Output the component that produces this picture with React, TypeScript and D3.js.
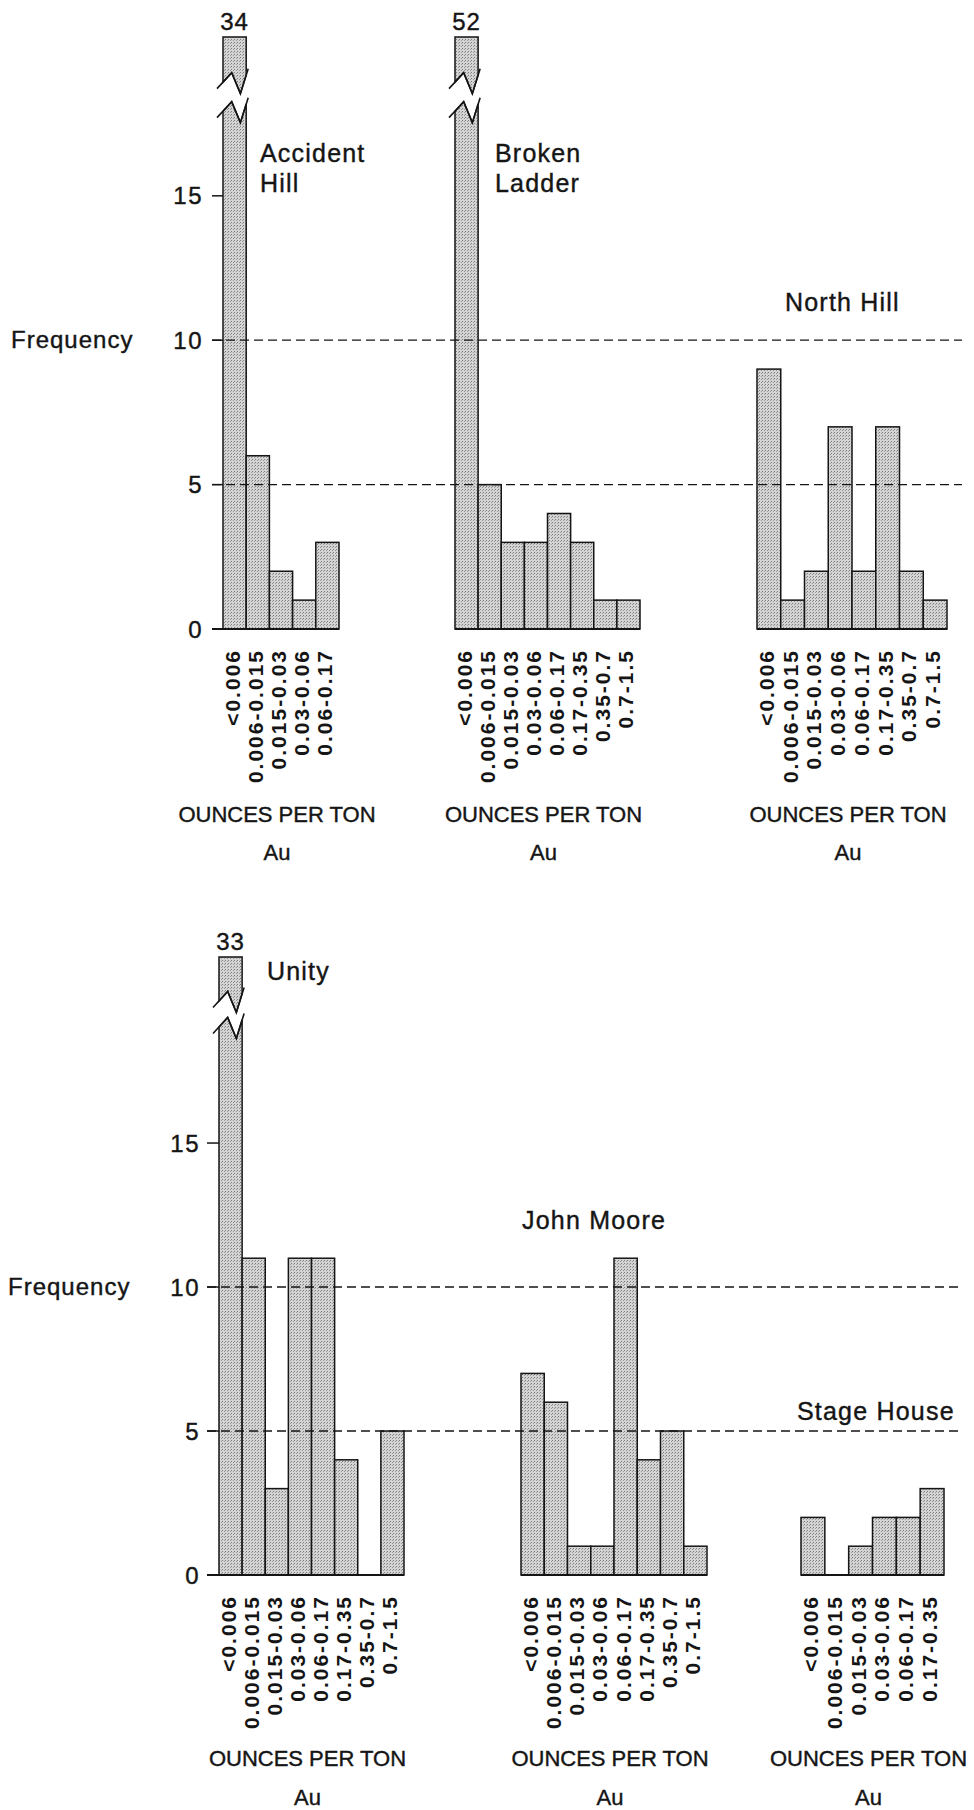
import React from "react";
import * as d3 from "d3";

// gold assay classes, ounces per ton
const binLabels = [
  "<0.006",
  "0.006-0.015",
  "0.015-0.03",
  "0.03-0.06",
  "0.06-0.17",
  "0.17-0.35",
  "0.35-0.7",
  "0.7-1.5",
];
const accidentHillBins = binLabels.slice(0, 5);
const stageHouseBins = binLabels.slice(0, 6);

const accidentHillCounts = [34, 6, 2, 1, 3];
const brokenLadderCounts = [52, 5, 3, 3, 4, 3, 1, 1];
const northHillCounts = [9, 1, 2, 7, 2, 7, 2, 1];
const unityCounts = [33, 11, 3, 11, 11, 4, 0, 5];
const johnMooreCounts = [7, 6, 1, 1, 11, 4, 5, 1];
const stageHouseCounts = [2, 0, 1, 2, 2, 3];

const yTicks = [0, 5, 10, 15];
const gridValues = [5, 10];

const FONT = "'Liberation Sans', Arial, Helvetica, sans-serif";
const INK = "#151515";
const W = 974;
const H = 1810;

// a thin outline makes the text as heavy as the printed original
const heavy = { stroke: INK, strokeWidth: 0.4 };

const panels = [
  {
    base: 629,
    top: 37,
    axisMax: 20.5,
    breakAt: 18.4,
    breakGap: 29,
    tickX: 212,
    tickLabelX: 203,
    freqX: 11,
    titleY: 822,
    auY: 860,
    groups: [
      { name: ["Accident", "Hill"], nameX: 260, nameY: 162, bins: accidentHillBins, counts: accidentHillCounts, x0: 223, x1: 339 },
      { name: ["Broken", "Ladder"], nameX: 495, nameY: 162, bins: binLabels, counts: brokenLadderCounts, x0: 455, x1: 640 },
      { name: ["North Hill"], nameX: 785, nameY: 311, bins: binLabels, counts: northHillCounts, x0: 757, x1: 947 },
    ],
  },
  {
    base: 1575,
    top: 957,
    axisMax: 21.46,
    breakAt: 19.5,
    breakGap: 26,
    tickX: 207,
    tickLabelX: 200,
    freqX: 8,
    titleY: 1766,
    auY: 1805,
    groups: [
      { name: ["Unity"], nameX: 267, nameY: 980, bins: binLabels, counts: unityCounts, x0: 219, x1: 404 },
      { name: ["John Moore"], nameX: 522, nameY: 1229, bins: binLabels, counts: johnMooreCounts, x0: 521, x1: 707 },
      { name: ["Stage House"], nameX: 797, nameY: 1420, bins: stageHouseBins, counts: stageHouseCounts, x0: 801, x1: 944 },
    ],
  },
];

const line = d3.line();

function zig(x0, w, yb) {
  return [
    [x0 - 6, yb + 20],
    [x0 + 0.375 * w, yb + 4],
    [x0 + 0.75 * w, yb + 25],
    [x0 + w + 2, yb],
  ];
}

function BrokenBar({ x0, w, yTop, yb1, yb2, base, value }) {
  const x1 = x0 + w;
  const upper = [
    [x0, yTop],
    [x1, yTop],
    [x1, yb1 + 6.25],
    [x0 + 0.75 * w, yb1 + 25],
    [x0 + 0.375 * w, yb1 + 4],
    [x0, yb1 + 13.6],
  ];
  const lower = [
    [x0, base],
    [x0, yb2 + 13.6],
    [x0 + 0.375 * w, yb2 + 4],
    [x0 + 0.75 * w, yb2 + 25],
    [x1, yb2 + 6.25],
    [x1, base],
  ];
  return (
    <g>
      <path d={line(upper) + "Z"} fill="url(#stipple)" stroke={INK} strokeWidth={1.5} />
      <path d={line(lower) + "Z"} fill="url(#stipple)" stroke={INK} strokeWidth={1.5} />
      <path d={line(zig(x0, w, yb1))} fill="none" stroke={INK} strokeWidth={1.6} />
      <path d={line(zig(x0, w, yb2))} fill="none" stroke={INK} strokeWidth={1.6} />
      <text
        x={x0 + w / 2}
        y={yTop - 7}
        textAnchor="middle"
        fontSize={24}
        letterSpacing={1}
        fill={INK}
        {...heavy}
      >
        {value}
      </text>
    </g>
  );
}

function Panel({ p }) {
  const y = d3.scaleLinear().domain([0, p.axisMax]).range([p.base, p.top]);
  const yb2 = y(p.breakAt);
  const yb1 = yb2 - p.breakGap;
  const firstX0 = p.groups[0].x0;

  return (
    <g>
      {p.groups.map((g, gi) => {
        const x = d3.scaleBand().domain(g.bins).range([g.x0, g.x1]).padding(0);
        const w = x.bandwidth();
        const cx = (g.x0 + g.x1) / 2;
        return (
          <g key={gi}>
            {g.counts.map((v, i) => {
              const bx = x(g.bins[i]);
              if (v > p.axisMax) {
                return (
                  <BrokenBar key={i} x0={bx} w={w} yTop={y(p.axisMax)} yb1={yb1} yb2={yb2} base={p.base} value={v} />
                );
              }
              if (v <= 0) return null;
              return (
                <rect
                  key={i}
                  x={bx}
                  y={y(v)}
                  width={w}
                  height={p.base - y(v)}
                  fill="url(#stipple)"
                  stroke={INK}
                  strokeWidth={1.5}
                />
              );
            })}
            {g.bins.map((b) => (
              <text
                key={b}
                transform={`translate(${x(b) + w / 2 + 5},${p.base + 20}) rotate(-90)`}
                textAnchor="end"
                fontSize={21}
                fontWeight="bold"
                letterSpacing={2}
                fill={INK}
              >
                {b}
              </text>
            ))}
            <line
              x1={gi === 0 ? p.tickX : g.x0}
              x2={g.x1}
              y1={p.base}
              y2={p.base}
              stroke={INK}
              strokeWidth={2}
            />
            {g.name.map((n, k) => (
              <text key={k} x={g.nameX} y={g.nameY + k * 30} fontSize={25} letterSpacing={1.2} fill={INK} {...heavy}>
                {n}
              </text>
            ))}
            <text x={cx - 4} y={p.titleY} textAnchor="middle" fontSize={22} fill={INK} {...heavy}>
              OUNCES PER TON
            </text>
            <text x={cx - 4} y={p.auY} textAnchor="middle" fontSize={22} fill={INK} {...heavy}>
              Au
            </text>
          </g>
        );
      })}

      {gridValues.map((v) => (
        <line
          key={v}
          x1={p.tickX}
          x2={962}
          y1={y(v)}
          y2={y(v)}
          stroke={INK}
          strokeWidth={1.3}
          strokeDasharray="9,5"
        />
      ))}

      {yTicks.map((t) => (
        <g key={t}>
          <line x1={p.tickX} x2={firstX0} y1={y(t)} y2={y(t)} stroke={INK} strokeWidth={1.5} />
          <text
            x={p.tickLabelX}
            y={y(t)}
            dy="0.36em"
            textAnchor="end"
            fontSize={24}
            letterSpacing={1.5}
            fill={INK}
            {...heavy}
          >
            {t}
          </text>
        </g>
      ))}

      <text x={p.freqX} y={y(10) + 8} fontSize={24} letterSpacing={1} fill={INK} {...heavy}>
        Frequency
      </text>
    </g>
  );
}

export default function App() {
  return (
    <svg
      width={W}
      height={H}
      viewBox={`0 0 ${W} ${H}`}
      style={{ position: "absolute", left: 0, top: 0, background: "#fff" }}
      fontFamily={FONT}
    >
      <defs>
        <pattern id="stipple" width={3} height={3} patternUnits="userSpaceOnUse">
          <rect width={3} height={3} fill="#d4d4d4" />
          <rect x={0} y={0} width={1} height={1} fill="#7c7c7c" />
          <rect x={2} y={1} width={1} height={1} fill="#9a9a9a" />
        </pattern>
      </defs>
      <rect width={W} height={H} fill="#fff" />
      {panels.map((p, i) => (
        <Panel key={i} p={p} />
      ))}
    </svg>
  );
}
